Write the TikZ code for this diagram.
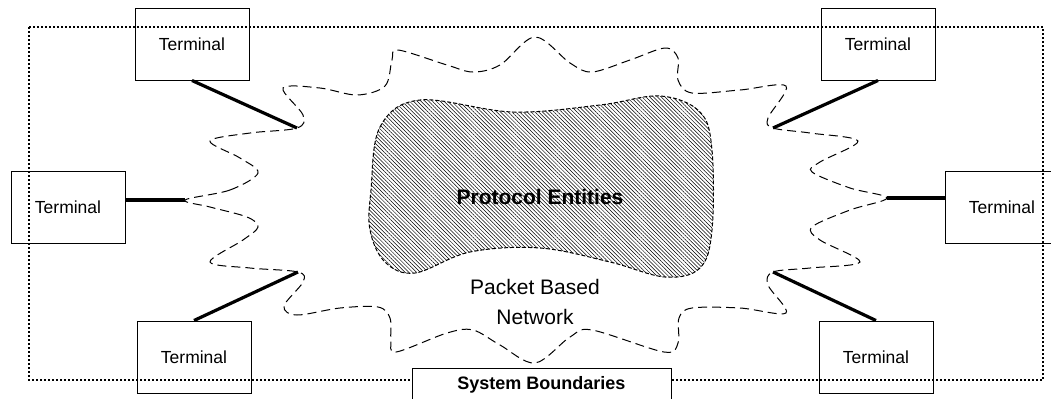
\documentclass[tikz,border=0pt]{standalone}
\usepackage{fontspec}
\setmainfont{Liberation Sans}
\usetikzlibrary{patterns.meta}

\begin{document}
\begin{tikzpicture}[
                x = 0.5pt, y = -0.5pt, % pixel grid, y downwards
                link/.style = {line width = 1.6pt}, % terminal to network
                cloud/.style = {line width = 0.5pt, dash pattern = on 4.5pt off 2.5pt},
                blob/.style = {line width = 0.5pt, dash pattern = on 2pt off 1pt,
                    pattern = {Lines[angle = -45, distance = 1.35pt, line width = 0.25pt]}},
                boundary/.style = {line width = 0.6pt, dash pattern = on 1pt off 1pt}
            ]

            \tikzstyle{every node}=[font = \fontsize{8.75}{10.5}\selectfont]
            \tikzstyle{terminal}=[draw = black, line width = 0.5pt,
            minimum width = 57pt, minimum height = 36pt, inner sep = 0pt]

            \useasboundingbox (0,0) rectangle (1051,398);

            % system boundaries
            \draw[boundary] (29,27) rectangle (1043,380);

            % packet based network
            \draw[cloud] plot[smooth cycle, tension = 0.55] coordinates {
                (185,200) (230,190) (258,173) (240,158) (210,141) (250,133)
                (297,128) (303,115) (283,88) (320,88) (357,95) (385,86)
                (392,60) (398,50) (447,65) (473,72) (500,65) (535,37)
                (570,63) (592,72) (630,60) (665,48) (678,58) (678,80)
                (692,93) (740,90) (786,86) (768,118) (773,128) (810,133)
                (858,141) (820,162) (812,172) (850,188) (887,198) (850,210)
                (812,227) (820,240) (860,262) (810,268) (773,272) (768,285)
                (786,313) (740,308) (692,308) (679,318) (678,343) (664,352)
                (592,330) (570,337) (535,363) (500,345) (473,330) (447,333)
                (396,352) (391,340) (390,318) (378,307) (340,308) (297,315)
                (284,306) (303,282) (298,272) (250,268) (210,262) (243,240)
                (258,227) (247,217) (210,207)};

            \coordinate (ltip) at (185,200); \coordinate (tltip) at (297,128);
            \coordinate (bltip) at (298,272); \coordinate (rtip) at (887,198);
            \coordinate (trtip) at (773,128); \coordinate (brtip) at (773,272);

            % protocol entities
            \draw[blob] plot[smooth cycle, tension = 0.6] coordinates {
                (371,190) (380,127) (420,100) (513,112) (600,105) (660,96)
                (700,112) (712,150) (712,230) (700,268) (665,277) (610,262)
                (540,248) (470,252) (415,273) (385,262) (370,230)};
            \node[font = \fontsize{10.5}{12}\selectfont\bfseries] (pe) at (540,197)
            {Protocol Entities};
            \node[font = \fontsize{10.5}{15}\selectfont, align = center] (pbn) at (535,302)
            {Packet Based\\Network};

            \node[terminal] (tl) at (192,44) {Terminal}; \node[terminal] (tr) at
            (878,44) {Terminal}; \node[terminal] (l) at (68,207) {Terminal};
            \node[terminal] (r) at (1002,207) {Terminal}; \node[terminal] (bl)
            at (194,357) {Terminal}; \node[terminal] (br) at (876,357) {Terminal};

            \draw[link] (tl.south) -- (tltip); \draw[link] (tr.south) -- (trtip);
            \draw[link] (l.east |- ltip) -- (ltip); \draw[link] (r.west |- rtip) -- (rtip);
            \draw[link] (bl.north) -- (bltip); \draw[link] (br.north) -- (brtip);

            \node[draw = black, fill = white, line width = 0.5pt, minimum width = 129.5pt,
            minimum height = 17pt, inner sep = 0pt, font = \fontsize{9}{11}\selectfont\bfseries]
            (sb) at (541.5,385) {System Boundaries};

        \end{tikzpicture}
\end{document}
